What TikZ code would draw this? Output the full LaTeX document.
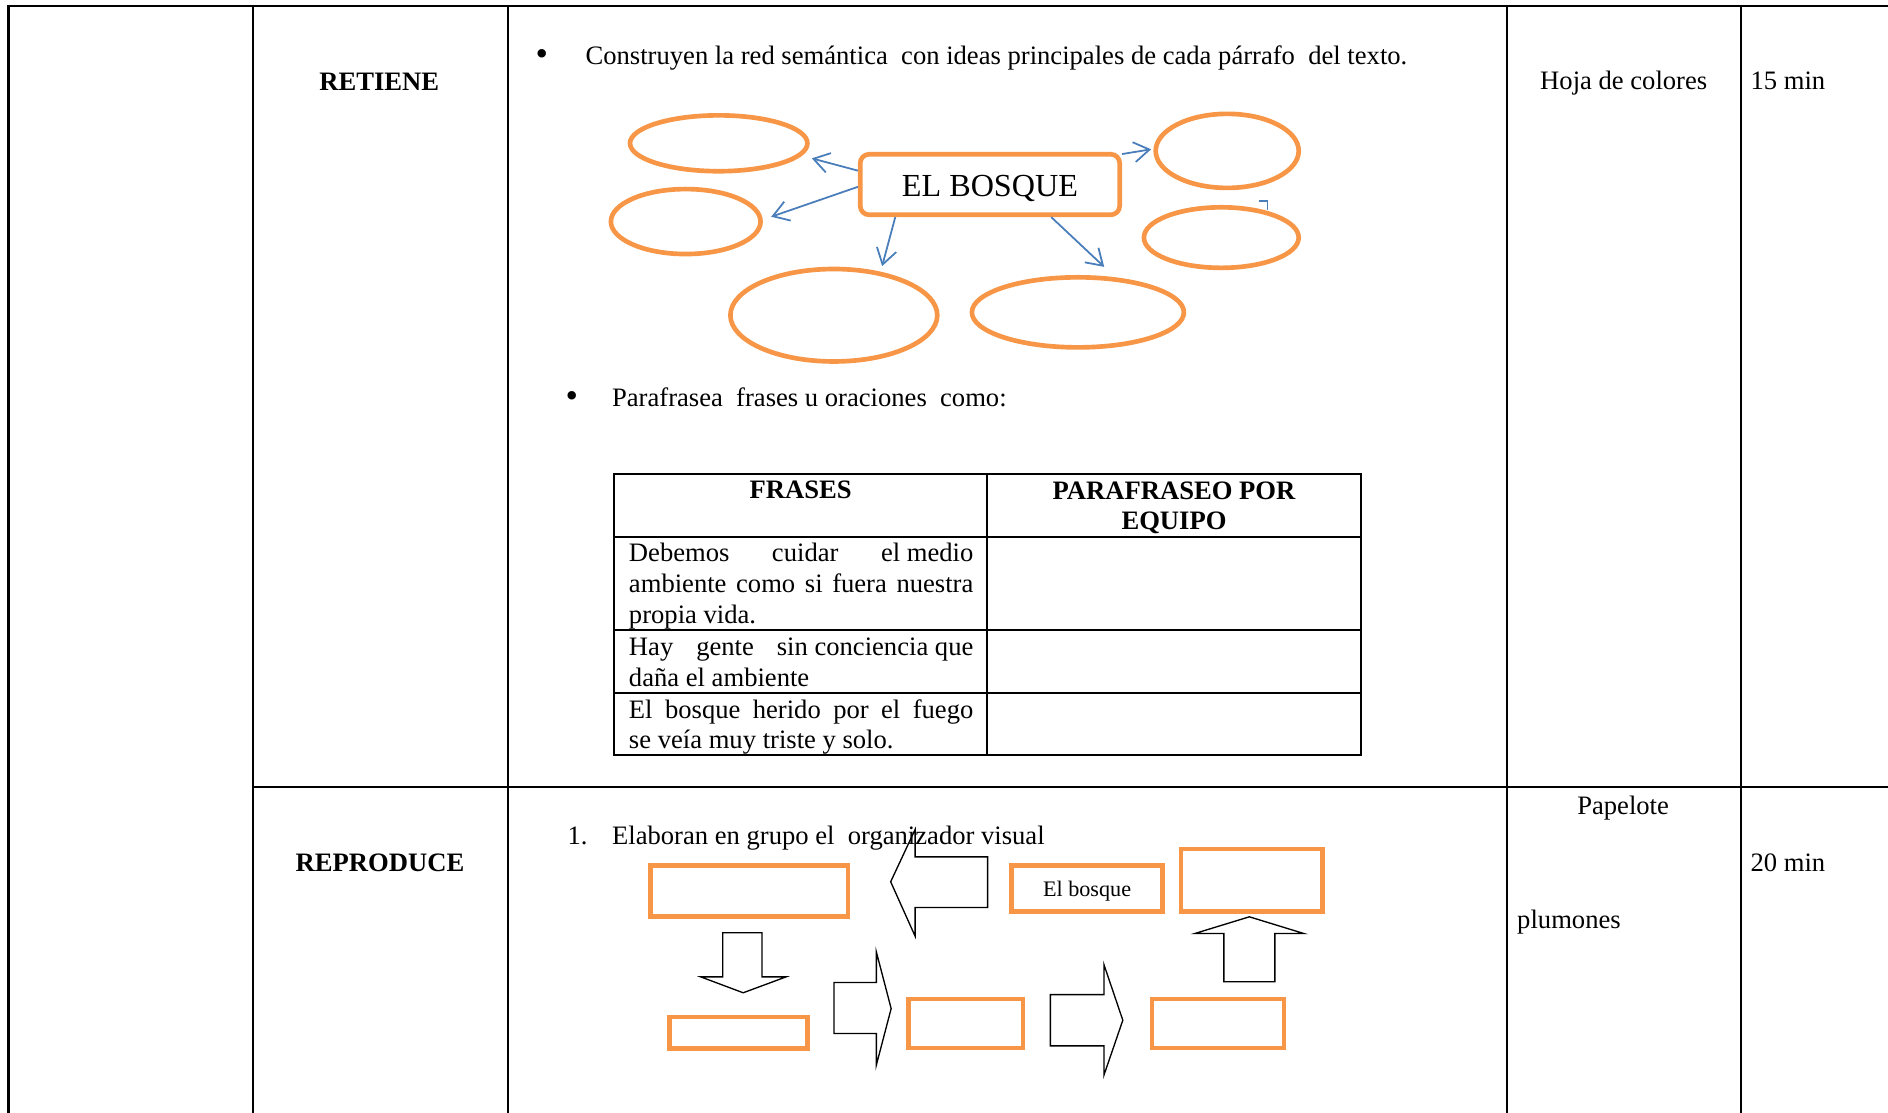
\documentclass[tikz,border=0pt]{standalone}
\usepackage{fontspec}
\setmainfont{Liberation Serif}
\usepackage{tikz}
\usetikzlibrary{shapes,arrows,arrows.meta,positioning,calc}
\usepackage{xcolor}
\definecolor{maporange}{RGB}{247,150,70}
\definecolor{mapblue}{RGB}{74,126,187}
\tikzset{
    gridline/.style={
        line width=1.1pt
    },
    tabline/.style={
        line width=0.9pt
    },
    txt/.style={
        inner sep=0pt,
        anchor=base west,
        font=\fontsize{12}{13.8}\selectfont
    },
    boldtxt/.style={
        txt,
        anchor=base,
        font=\fontsize{12}{13.8}\selectfont\bfseries
    },
    dot/.style={
        txt,
        anchor=base,
        font=\fontsize{16}{16}\selectfont
    },
    bubble/.style={
        ellipse,
        draw=maporange,
        line width=2.1pt,
        fill=white,
        inner sep=0pt
    },
    mainbox/.style={
        rectangle,
        rounded corners=4pt,
        draw=maporange,
        line width=2.1pt,
        fill=white,
        inner sep=0pt,
        minimum width=117pt,
        minimum height=27.3pt,
        text height=11.2pt,
        text depth=0pt,
        font=\fontsize{14.5}{16}\selectfont
    },
    stepbox/.style={
        rectangle,
        draw=maporange,
        line width=2pt,
        inner sep=0pt,
        text height=6.9pt,
        text depth=0pt,
        font=\fontsize{10}{12}\selectfont
    },
    maparrow/.style={
        -{Straight Barb[length=7pt,width=9pt]},
        mapblue,
        line width=0.8pt
    },
    blockarrow/.style={
        draw=black,
        line width=0.6pt,
        line join=miter
    }
}

\begin{document}
\begin{tikzpicture}[x=0.543pt,y=-0.543pt]
        \useasboundingbox (0,0) rectangle (1568,924);

        % Outer table
        \draw[gridline] (7,924) -- (7,5) -- (1568,5);
        \draw[gridline] (210,5) -- (210,924);
        \draw[gridline] (422,5) -- (422,924);
        \draw[gridline] (1251.4,5) -- (1251.4,924);
        \draw[gridline] (1445.7,5) -- (1445.7,924);
        \draw[gridline] (210,653.4) -- (1568,653.4);

        % First row texts
        \node[boldtxt] (retiene) at (315,75.5) {RETIENE};
        \node[dot] (bul1) at (450,54.5) {\textbullet};
        \node[txt] (construyen) at (486,53.5) {Construyen la red semántica~ con ideas principales de cada párrafo~ del texto.};
        \node[txt,anchor=base] (hoja) at (1348.5,74.5) {Hoja de colores};
        \node[txt] (min15) at (1453.5,74.5) {15 min};

        % Concept map
        \draw[mapblue,line width=0.8pt] (1045.4,167) -- (1052.6,167) -- (1052.6,174);
        \node[bubble,minimum width=80pt,minimum height=25.2pt] (e1) at (596.9,119) {};
        \node[bubble,minimum width=67.5pt,minimum height=29.3pt] (e2) at (569.5,184) {};
        \node[bubble,minimum width=93.3pt,minimum height=41.7pt] (e3) at (692.5,261.8) {};
        \node[bubble,minimum width=95.6pt,minimum height=31.6pt] (e4) at (895.2,259.4) {};
        \node[bubble,minimum width=64.5pt,minimum height=33.4pt] (e5) at (1019.2,125.3) {};
        \node[bubble,minimum width=69.8pt,minimum height=27.3pt] (e6) at (1014.3,197.3) {};
        \node[mainbox] (bosque) at (822.15,153.25) {EL BOSQUE};

        \coordinate (t1) at (674.2,131.5);
        \coordinate (t2) at (640.5,180);
        \coordinate (t3) at (732.6,221);
        \coordinate (t4) at (917,221.6);
        \coordinate (t5) at (956,124);
        \draw[maparrow] (bosque.174) -- (t1);
        \draw[maparrow] (bosque.181) -- (t2);
        \draw[maparrow] (bosque.199) -- (t3);
        \draw[maparrow] (bosque.332) -- (t4);
        \draw[maparrow] (bosque.13) -- (t5);

        \node[dot] (bul2) at (475,338.5) {\textbullet};
        \node[txt] (parafrasea) at (508,337.5) {Parafrasea~ frases u oraciones~ como:};

        % Inner table
        \draw[tabline] (510,393.7) rectangle (1130.4,627.2);
        \draw[tabline] (820.1,393.7) -- (820.1,627.2);
        \draw[tabline] (510,445.8) -- (1130.4,445.8);
        \draw[tabline] (510,523.3) -- (1130.4,523.3);
        \draw[tabline] (510,575.4) -- (1130.4,575.4);

        \node[boldtxt] (frases) at (665,414.4) {FRASES};
        \node[boldtxt,align=center] (parafraseo) at (975,439.9) {PARAFRASEO POR\\EQUIPO};
        \node[txt,align=left] (r1) at (522,517.4) {\makebox[155.3pt][s]{Debemos cuidar el\hspace{.25em}medio}\\\makebox[155.3pt][s]{ambiente como si fuera nuestra}\\propia vida.};
        \node[txt,align=left] (r2) at (522,570) {\makebox[155.3pt][s]{Hay gente sin\hspace{.25em}conciencia\hspace{.25em}que}\\daña el ambiente};
        \node[txt,align=left] (r3) at (522,621.8) {\makebox[155.3pt][s]{El bosque herido por el fuego}\\se veía muy triste y solo.};

        % Second row texts
        \node[boldtxt] (reproduce) at (315.6,723.5) {REPRODUCE};
        \node[txt] (num1) at (471,701.5) {1.};
        \node[txt] (elaboran) at (508,701.5) {Elaboran en grupo el~ organizador visual};
        \node[txt,anchor=base] (papelote) at (1348,676.5) {Papelote};
        \node[txt] (plumones) at (1259.7,770.7) {plumones};
        \node[txt] (min20) at (1453.5,723.6) {20 min};

        % Visual organizer
        \node[stepbox,minimum width=88.9pt,minimum height=23.1pt] (b1) at (622.25,739.95) {};
        \node[stepbox,minimum width=68.2pt,minimum height=20.8pt] (b2) at (902.8,737.85) {El bosque};
        \node[stepbox,minimum width=63.7pt,minimum height=28.3pt] (b3) at (1039.7,730.95) {};
        \node[stepbox,minimum width=62.2pt,minimum height=14.1pt] (b4) at (613.4,857.65) {};
        \node[stepbox,minimum width=51.7pt,minimum height=22.3pt] (b5) at (801.95,850.05) {};
        \node[stepbox,minimum width=59.7pt,minimum height=22.3pt] (b6) at (1011.55,850.05) {};

        \draw[blockarrow] (820.2,711.6) -- (760,711.6) -- (760,688.9) -- (739.7,732.3) -- (760,777.5) -- (760,753.7) -- (820.2,753.7) -- cycle;
        \draw[blockarrow] (600.2,774.7) -- (632.9,774.7) -- (632.9,811.3) -- (652.8,811.3) -- (617.2,824.5) -- (582,811.3) -- (600.2,811.3) -- cycle;
        \draw[blockarrow] (692.6,816) -- (727.8,816) -- (727.8,790.5) -- (740.1,837.6) -- (727.8,884.6) -- (727.8,858.3) -- (692.6,858.3) -- cycle;
        \draw[blockarrow] (872.3,826) -- (916.8,826) -- (916.8,801) -- (932.5,847.3) -- (916.8,893) -- (916.8,868.6) -- (872.3,868.6) -- cycle;
        \draw[blockarrow] (1016.4,815.4) -- (1016.4,775.3) -- (992.2,775.3) -- (1037.6,761.4) -- (1082.9,775.3) -- (1058.8,775.3) -- (1058.8,815.4) -- cycle;
    \end{tikzpicture}
\end{document}
